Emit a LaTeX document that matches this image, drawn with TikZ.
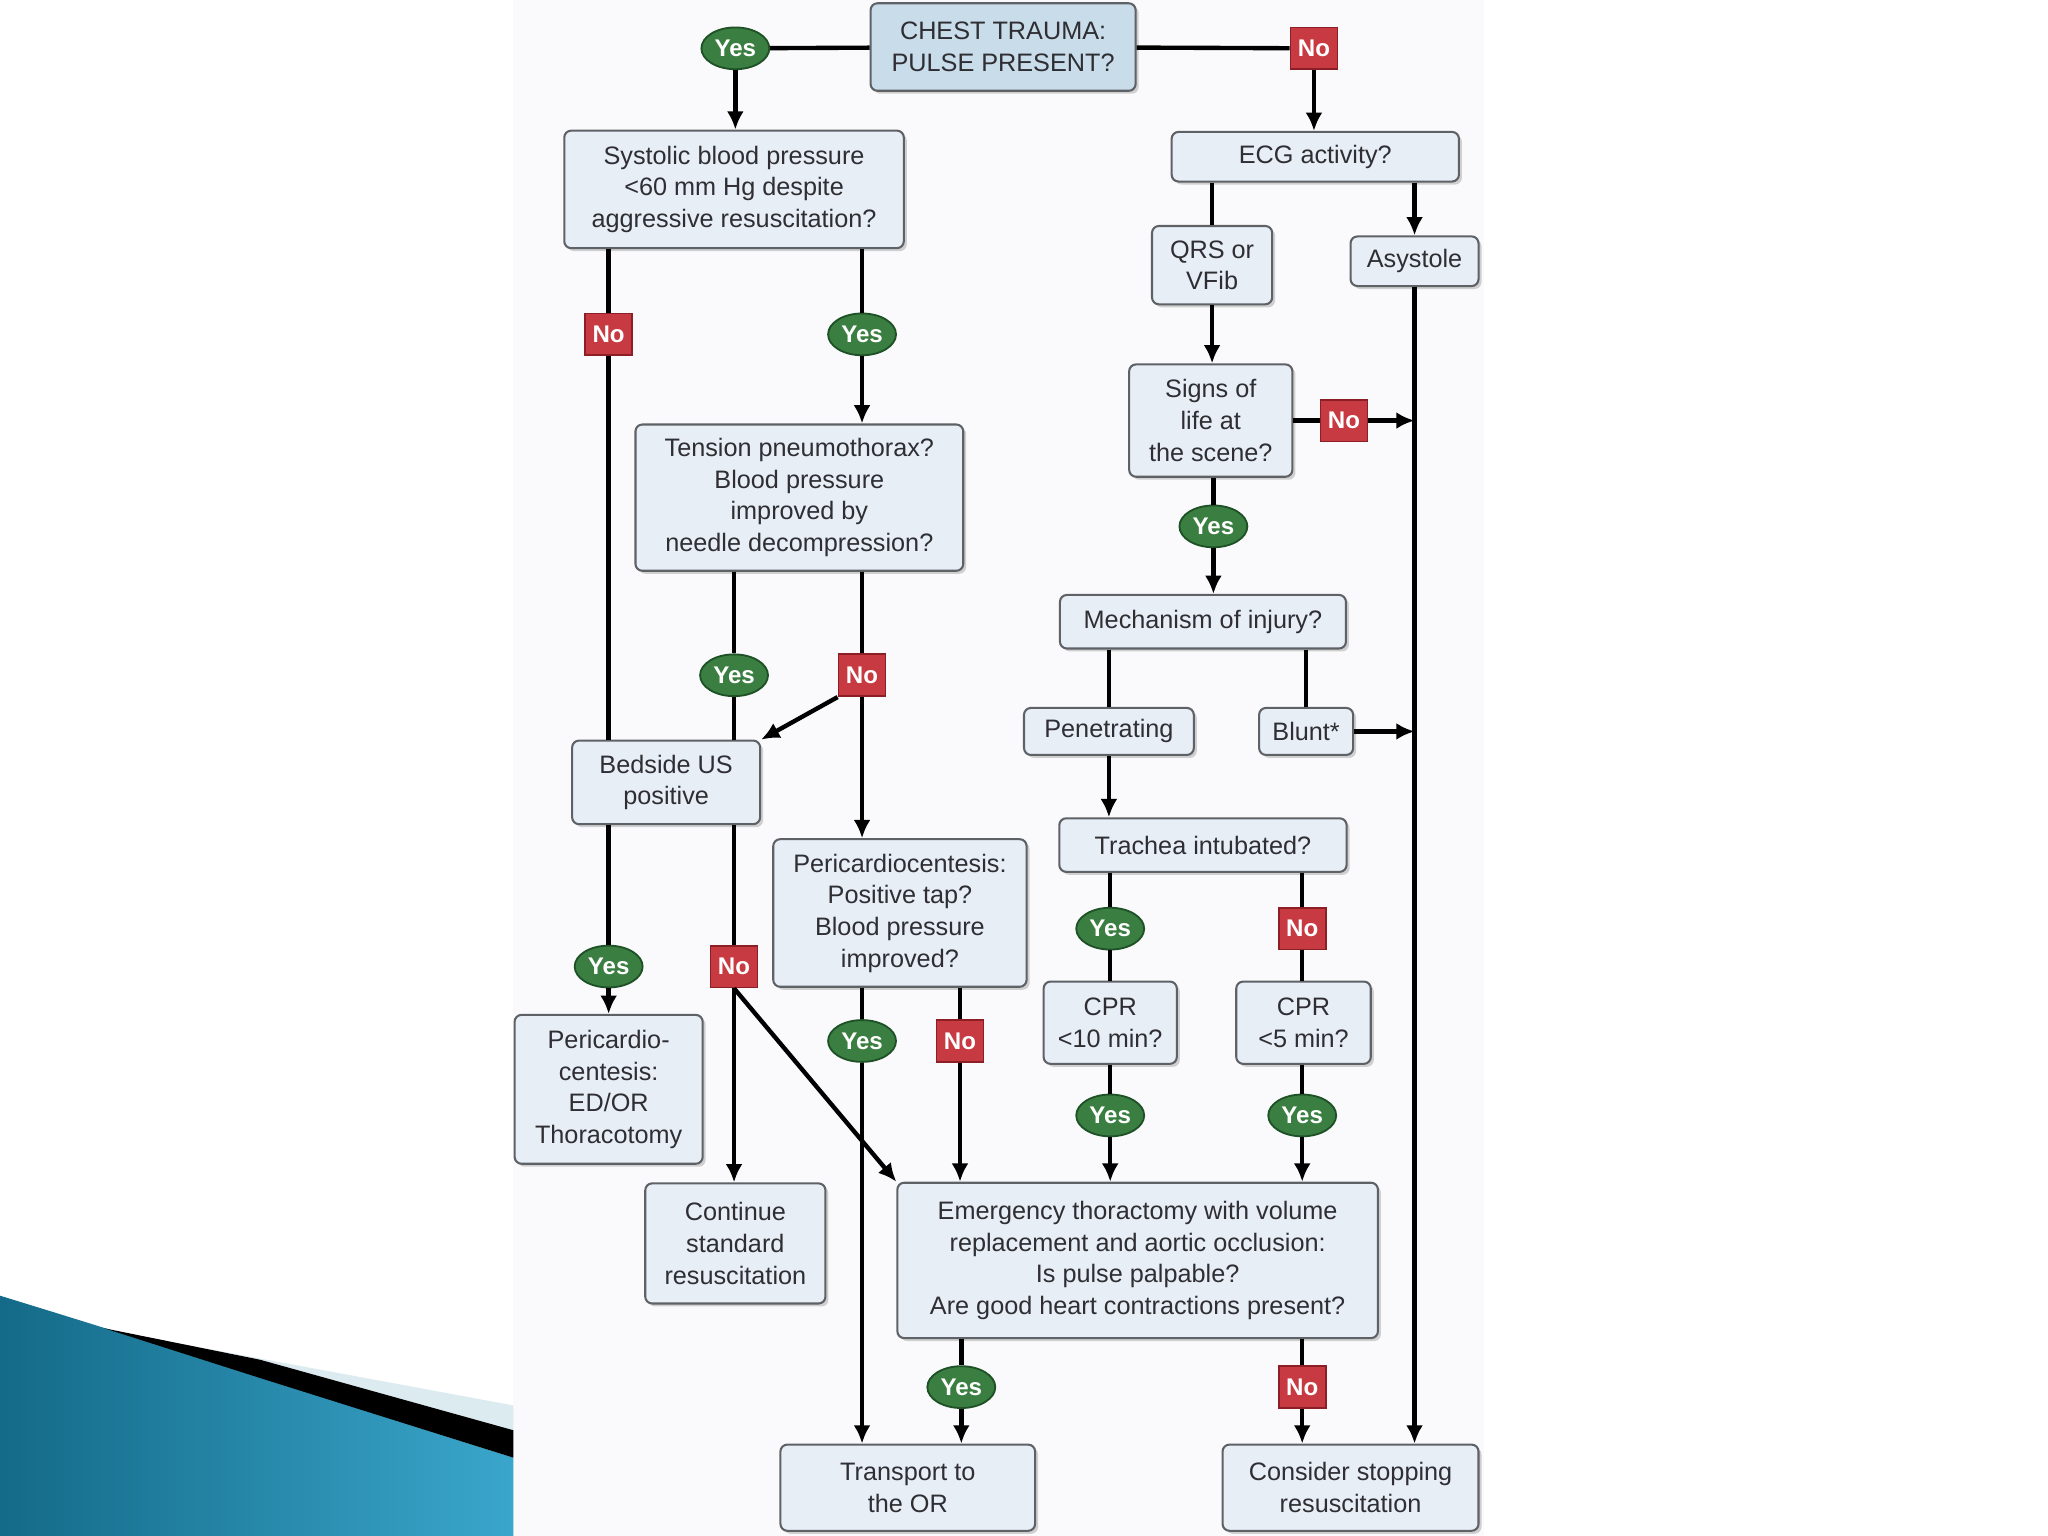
\documentclass[tikz,border=0pt]{standalone}
\usepackage{fontspec}
\setmainfont{Liberation Sans}
\usepackage{tikz}
\usetikzlibrary{shapes,arrows.meta,positioning,shadows,calc}
\definecolor{traumabox}{HTML}{E8EEF6}
\definecolor{traumahead}{HTML}{C9DCEA}
\definecolor{traumaedge}{HTML}{5E6166}
\definecolor{traumatext}{HTML}{2E2E33}
\definecolor{traumayes}{HTML}{3A7F41}
\definecolor{traumayesedge}{HTML}{1F5126}
\definecolor{traumano}{HTML}{C83A42}
\definecolor{traumanoedge}{HTML}{8C1E25}
\definecolor{slideblue}{HTML}{3AA6CB}
\definecolor{slidedark}{HTML}{146A88}
\definecolor{slidelight}{HTML}{DCEBF0}
\definecolor{diagbg}{HTML}{FAFAFC}
\tikzstyle{box} = [draw=traumaedge, fill=traumabox, line width=0.9pt, rounded corners=3pt, align=center, text=traumatext, inner sep=1pt, drop shadow={shadow xshift=1.3pt, shadow yshift=-1.3pt, opacity=0.35}]
\tikzstyle{yesmark} = [ellipse, draw=traumayesedge, fill=traumayes, line width=0.8pt, text=white, minimum width=1.04cm, minimum height=0.64cm, inner sep=0pt, font=\fontsize{10.5}{12}\selectfont\bfseries]
\tikzstyle{nomark} = [rectangle, draw=traumanoedge, fill=traumano, line width=0.8pt, text=white, minimum width=0.72cm, minimum height=0.64cm, inner sep=0pt, font=\fontsize{10.5}{12}\selectfont\bfseries]
\tikzstyle{link} = [line width=1.9pt, black]
\tikzstyle{arrow} = [-{Latex[length=2.8mm,width=2.6mm]}, line width=1.9pt, black]

\begin{document}
\begin{tikzpicture}[x=0.02cm, y=-0.02cm, font=\fontsize{11}{13.8}\selectfont]
\useasboundingbox (0,0) rectangle (1568,1176);
\fill[white] (0,0) rectangle (1568,1176);
\fill[diagbg] (393,0) rectangle (1136,1176);
\shade[left color=slidedark, right color=slideblue] (0,992) .. controls (150,1038) and (260,1074) .. (393,1116) -- (393,1176) -- (0,1176) -- cycle;
\fill[slidelight] (150,1031) -- (393,1076) -- (393,1095) -- (199,1041) -- cycle;
\fill[black] (80,1017) -- (199,1041) -- (393,1095) -- (393,1116) -- (199,1055) -- cycle;

\node[box, fill=traumahead, minimum width=4.06cm, minimum height=1.34cm] at (768,36) (chest) {CHEST TRAUMA:\\PULSE PRESENT?};
\node[yesmark] at (563,37) (y1) {Yes};
\node[nomark] at (1006,37) (n1) {No};
\node[box, minimum width=5.2cm, minimum height=1.8cm] at (562,145) (sbp) {Systolic blood pressure\\<60 mm Hg despite\\aggressive resuscitation?};
\node[box, minimum width=4.4cm, minimum height=0.76cm] at (1007,120) (ecg) {ECG activity?};
\node[box, minimum width=1.84cm, minimum height=1.2cm] at (928,203) (qrs) {QRS or\\VFib};
\node[box, minimum width=1.96cm, minimum height=0.76cm] at (1083,200) (asys) {Asystole};
\node[nomark] at (466,256) (n2) {No};
\node[yesmark] at (660,256) (y2) {Yes};
\node[box, minimum width=2.5cm, minimum height=1.72cm] at (927,322) (signs) {Signs of\\life at\\the scene?};
\node[nomark] at (1029,322) (n3) {No};
\node[box, minimum width=5.02cm, minimum height=2.24cm] at (612,381) (tens) {Tension pneumothorax?\\Blood pressure\\improved by\\needle decompression?};
\node[yesmark] at (929,403) (y3) {Yes};
\node[box, minimum width=4.38cm, minimum height=0.82cm] at (921,476) (mech) {Mechanism of injury?};
\node[yesmark] at (562,517) (y4) {Yes};
\node[nomark] at (660,517) (n4) {No};
\node[box, minimum width=2.6cm, minimum height=0.72cm] at (849,560) (pen) {Penetrating};
\node[box, minimum width=1.44cm, minimum height=0.72cm] at (1000,560) (blunt) {Blunt*};
\node[box, minimum width=2.88cm, minimum height=1.28cm] at (510,599) (us) {Bedside US\\positive};
\node[box, minimum width=4.4cm, minimum height=0.82cm] at (921,647) (trach) {Trachea intubated?};
\node[box, minimum width=3.88cm, minimum height=2.26cm] at (689,699) (tap) {Pericardiocentesis:\\Positive tap?\\Blood pressure\\improved?};
\node[yesmark] at (850,711) (y7) {Yes};
\node[nomark] at (997,711) (n7) {No};
\node[yesmark] at (466,740) (y5) {Yes};
\node[nomark] at (562,740) (n5) {No};
\node[box, minimum width=2.04cm, minimum height=1.26cm] at (850,783) (cprten) {CPR\\<10 min?};
\node[box, minimum width=2.06cm, minimum height=1.26cm] at (998,783) (cprfive) {CPR\\<5 min?};
\node[yesmark] at (660,797) (y6) {Yes};
\node[nomark] at (735,797) (n6) {No};
\node[box, minimum width=2.88cm, minimum height=2.28cm] at (466,834) (edor) {Pericardio-\\centesis:\\ED/OR\\Thoracotomy};
\node[yesmark] at (850,854) (y8) {Yes};
\node[yesmark] at (997,854) (y9) {Yes};
\node[box, minimum width=2.76cm, minimum height=1.84cm] at (563,952) (cont) {Continue\\standard\\resuscitation};
\node[box, minimum width=7.36cm, minimum height=2.38cm] at (871,965) (et) {Emergency thoractomy with volume\\replacement and aortic occlusion:\\Is pulse palpable?\\Are good heart contractions present?};
\node[yesmark] at (736,1062) (y10) {Yes};
\node[nomark] at (997,1062) (n8) {No};
\node[box, minimum width=3.9cm, minimum height=1.32cm] at (695,1139) (ortrans) {Transport to\\the OR};
\node[box, minimum width=3.92cm, minimum height=1.32cm] at (1034,1139) (stop) {Consider stopping\\resuscitation};

\draw[link] (y1) -- (chest);
\draw[arrow] (y1) -- (y1 |- sbp.north);
\draw[link] (chest) -- (n1);
\draw[arrow] (n1) -- (n1 |- ecg.north);
\draw[link] (sbp.south -| n2) -- (n2);
\draw[link] (n2) -- (n2 |- us.north);
\draw[link] (sbp.south -| y2) -- (y2);
\draw[arrow] (y2) -- (y2 |- tens.north);
\draw[link] (ecg.south -| qrs) -- (qrs);
\draw[arrow] (ecg.south -| asys) -- (asys);
\draw[arrow] (qrs.south) -- (qrs.south |- signs.north);
\draw[link] (signs) -- (n3);
\draw[arrow] (n3) -- (n3 -| asys);
\draw[link] (signs.south -| y3) -- (y3);
\draw[arrow] (y3) -- (y3 |- mech.north);
\draw[arrow] (asys) -- (asys |- stop.north);
\draw[link] (tens.south -| y4) -- (y4);
\draw[link] (y4) -- (y4 |- us.north);
\draw[link] (tens.south -| n4) -- (n4);
\draw[arrow] (n4) -- (n4 |- tap.north);
\draw[arrow] (n4.south west) -- (us.north east);
\draw[link] (mech.south -| pen) -- (pen);
\draw[link] (mech.south -| blunt) -- (blunt);
\draw[arrow] (blunt) -- (blunt -| asys);
\draw[arrow] (pen) -- (pen |- trach.north);
\draw[link] (trach.south -| y7) -- (y7);
\draw[link] (y7) -- (y7 |- cprten.north);
\draw[link] (trach.south -| n7) -- (n7);
\draw[link] (n7) -- (n7 |- cprfive.north);
\draw[link] (us.south -| y5) -- (y5);
\draw[arrow] (y5) -- (y5 |- edor.north);
\draw[link] (us.south -| n5) -- (n5);
\draw[arrow] (n5) -- (n5 |- cont.north);
\draw[arrow] (n5.south) -- (et.north west);
\draw[link] (tap.south -| y6) -- (y6);
\draw[arrow] (y6) -- (y6 |- ortrans.north);
\draw[link] (tap.south -| n6) -- (n6);
\draw[arrow] (n6) -- (n6 |- et.north);
\draw[link] (cprten.south -| y8) -- (y8);
\draw[arrow] (y8) -- (y8 |- et.north);
\draw[link] (cprfive.south -| y9) -- (y9);
\draw[arrow] (y9) -- (y9 |- et.north);
\draw[link] (et.south -| y10) -- (y10);
\draw[arrow] (y10) -- (y10 |- ortrans.north);
\draw[link] (et.south -| n8) -- (n8);
\draw[arrow] (n8) -- (n8 |- stop.north);
\end{tikzpicture}
\end{document}
